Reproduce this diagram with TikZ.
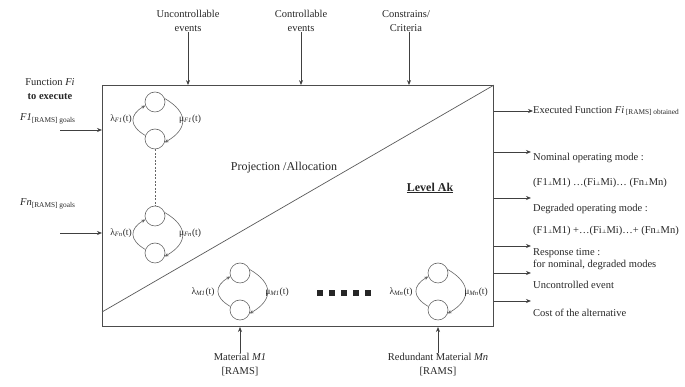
\documentclass[tikz,border=0pt]{standalone}
\usepackage{fontspec}
\setmainfont{Liberation Serif}
\newfontfamily\symfont{DejaVu Serif}
\usetikzlibrary{arrows.meta}
\newcommand{\myperp}{{\symfont\fontsize{5}{5}\selectfont ⊥}}
\begin{document}
\begin{tikzpicture}[x=1pt,y=1pt,
  every node/.style={font=\fontsize{10.5}{14}\selectfont, text=black!85, inner sep=0pt},
  arr/.style={-{Stealth[length=5pt,width=4pt]}, line width=0.7pt, draw=black!75},
  st/.style={circle, draw=black!60, line width=0.6pt, minimum size=20pt, inner sep=0pt},
  lp/.style={-{Stealth[length=4pt,width=3.5pt]}, line width=0.6pt, draw=black!60},
  rate/.style={font=\fontsize{9.5}{10}\selectfont},
  big/.style={font=\fontsize{12}{14}\selectfont}]
\useasboundingbox (0,0) rectangle (685,387);
% main box and diagonal
\node[draw=black!70, line width=0.9pt, minimum width=391pt, minimum height=241pt, anchor=south west] (box) at (102,60) {};
\coordinate (dl) at (102,75);
\draw[line width=0.7pt, draw=black!65] (dl) -- (box.north east);
% top inputs
\node[align=center] (uc) at (188,366) {Uncontrollable\\events};
\node[align=center] (cc) at (301,366) {Controllable\\events};
\node[align=center] (cr) at (406,366) {Constrains/\\Criteria};
\draw[arr] (uc.south) -- (uc.south |- box.north);
\draw[arr] (cc.south) -- (cc.south |- box.north);
\draw[arr] ([xshift=3pt]cr.south) -- ([xshift=3pt]cr.south |- box.north);
% left inputs
\node[align=center] (fn) at (50,298) {Function \textit{Fi}\\\textbf{to execute}};
\node[anchor=west] (f1) at (20,268) {\textit{F1}\textsubscript{[RAMS] goals}};
\node[anchor=west] (fnn) at (20,183) {\textit{Fn}\textsubscript{[RAMS] goals}};
\coordinate (f1s) at (60,257);
\coordinate (fns) at (60,154);
\draw[arr] (f1s) -- (f1s -| box.west);
\draw[arr] (fns) -- (fns -| box.west);
% state pairs
\node[st] (t1) at (155,285) {}; \node[st] (b1) at (155,248) {};
\node[st] (t2) at (155,171) {}; \node[st] (b2) at (155,134) {};
\node[st] (t3) at (240,114) {}; \node[st] (b3) at (240,77) {};
\node[st] (t4) at (438,114) {}; \node[st] (b4) at (438,77) {};
\foreach \p in {1,2,3,4}{
  \draw[lp] (b\p.160) to[out=150,in=210,looseness=1.6] (t\p.200);
  \draw[lp] (t\p.20) to[out=-30,in=30,looseness=1.6] (b\p.-20);
}
\draw[draw=black!60, line width=0.6pt, dash pattern=on 2pt off 1.5pt] (b1.south) -- (t2.north);
\node[rate] (l1) at (121,268) {λ\textsubscript{\textit{F1}}(t)};
\node[rate] (m1) at (190,268) {μ\textsubscript{\textit{F1}}(t)};
\node[rate] (l2) at (121,154) {λ\textsubscript{\textit{Fn}}(t)};
\node[rate] (m2) at (190,154) {μ\textsubscript{\textit{Fn}}(t)};
\node[rate] (l3) at (203,95) {λ\textsubscript{\textit{M1}}(t)};
\node[rate] (m3) at (277,95) {μ\textsubscript{\textit{M1}}(t)};
\node[rate] (l4) at (401,95) {λ\textsubscript{\textit{Mn}}(t)};
\node[rate] (m4) at (476,95) {μ\textsubscript{\textit{Mn}}(t)};
% dots
\foreach \x in {320,332,344,356,368}{\fill[black!85] (\x-3,91) rectangle (\x+3,97);}
% center texts
\node[big] (pa) at (284,219) {Projection /Allocation};
\node[big] (lv) at (430,199) {\textbf{\underline{Level Ak}}};
% bottom inputs
\node[align=center] (mat1) at (240,22) {Material \textit{M1}\\{}[RAMS]};
\node[align=center] (matn) at (438,22) {Redundant Material \textit{Mn}\\{}[RAMS]};
\draw[arr] (mat1.north) -- (mat1.north |- box.south);
\draw[arr] (matn.north) -- (matn.north |- box.south);
% outputs
\node[anchor=west] (ex) at (533,276) {Executed Function \textit{Fi}\,\textsubscript{[RAMS] obtained}};
\node[anchor=west] (nom) at (533,229) {Nominal operating mode :};
\node[anchor=west] (nomf) at (533,204) {(F1\myperp M1) …(Fi\myperp Mi)…\ (Fn\myperp Mn)};
\node[anchor=west] (deg) at (533,178) {Degraded operating mode :};
\node[anchor=west] (degf) at (533,156) {(F1\myperp M1) +…(Fi\myperp Mi)…+\ (Fn\myperp Mn)};
\node[anchor=west] (resp) at (533,134) {Response time :};
\node[anchor=west] (resp2) at (533,122) {for nominal, degraded modes};
\node[anchor=west] (unc) at (533,102) {Uncontrolled event};
\node[anchor=west] (cost) at (533,74) {Cost of the alternative};
\draw[arr] (ex.west -| box.east) -- (ex.west);
\coordinate (o2) at (531,235);
\coordinate (o3) at (531,189);
\coordinate (o4) at (531,141);
\coordinate (o5) at (531,114);
\coordinate (o6) at (531,86);
\foreach \o in {o2,o3,o4,o5,o6}{\draw[arr] (\o -| box.east) -- (\o);}
\end{tikzpicture}
\end{document}
